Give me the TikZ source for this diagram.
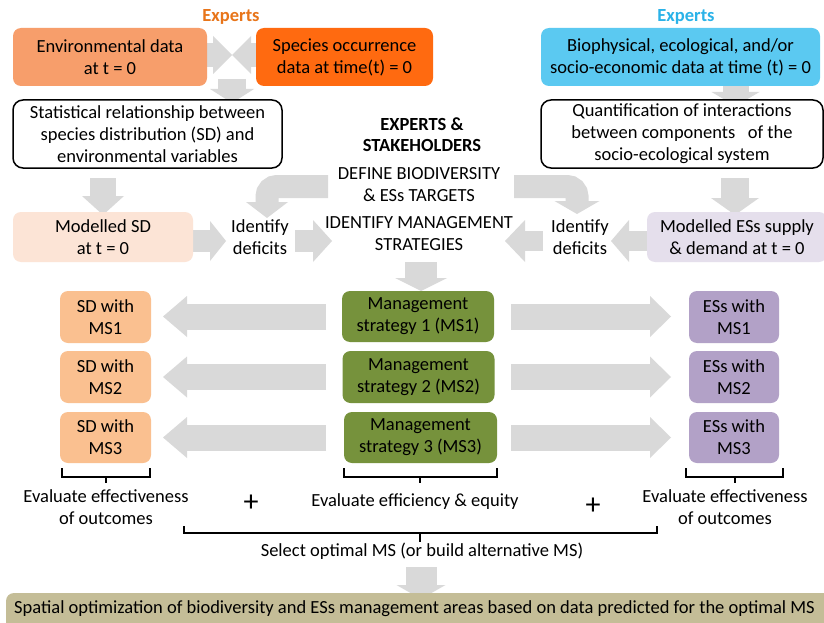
\documentclass[tikz,border=0pt]{standalone}
\usepackage{fontspec}
\setmainfont{Carlito}
\usetikzlibrary{arrows.meta}
\definecolor{agray}{HTML}{D9D9D9}
\definecolor{expor}{HTML}{E8751A}
\definecolor{expbl}{HTML}{2AB2E8}
\definecolor{envc}{HTML}{F79E6B}
\definecolor{spec}{HTML}{FF6A10}
\definecolor{bioc}{HTML}{5BC9F1}
\definecolor{msdc}{HTML}{FCE4D6}
\definecolor{mesc}{HTML}{E5DFEC}
\definecolor{sdc}{HTML}{FAC090}
\definecolor{esc}{HTML}{B2A1C7}
\definecolor{msc}{HTML}{76923C}
\definecolor{botc}{HTML}{C4BD97}
\begin{document}
\begin{tikzpicture}[x=1pt,y=-1pt,
  every node/.style={font=\fontsize{18.5}{22}\selectfont, align=center, inner sep=0pt},
  box/.style n args={3}{rounded corners=8pt, fill=#1, minimum width=#2, minimum height=#3},
  obox/.style n args={2}{rounded corners=10pt, draw=black, line width=1.5pt, fill=white, minimum width=#1, minimum height=#2},
  blk/.style n args={3}{draw=agray, line width=#1, -{Triangle[width=#2 0 0, length=#3 0 0, line width=0pt, fill=agray]}},
  brk/.style={draw=black, line width=2pt},
  plus/.style={font=\fontsize{30}{30}\selectfont}]
\clip (0,0) rectangle (824,623);
\fill[white] (0,0) rectangle (824,623);

% ---------- arrow end coordinates ----------
\coordinate (a1s) at (199,55);  \coordinate (a1e) at (232,55);
\coordinate (a2s) at (264,55);  \coordinate (a2e) at (232,55);
\coordinate (a3s) at (232,79);  \coordinate (a3e) at (232,103);
\coordinate (a4s) at (735.5,82); \coordinate (a4e) at (735.5,106);
\coordinate (a5s) at (103,178); \coordinate (a5e) at (103,215);
\coordinate (a6s) at (735,178); \coordinate (a6e) at (735,215);
\coordinate (a7s) at (188,241); \coordinate (a7e) at (226,241);
\coordinate (a8s) at (295,241); \coordinate (a8e) at (332,241);
\coordinate (a9s) at (650,241); \coordinate (a9e) at (611,241);
\coordinate (a10s) at (543,241); \coordinate (a10e) at (505,241);
\coordinate (c1s) at (328,186.5); \coordinate (c1m) at (267,186.5); \coordinate (c1e) at (267,218);
\coordinate (c2s) at (514,186.5); \coordinate (c2m) at (577,186.5); \coordinate (c2e) at (577,214);
\coordinate (a11s) at (421,262); \coordinate (a11e) at (421,291);
\coordinate (a12s) at (421,567); \coordinate (a12e) at (421,599);
\foreach \i/\y in {1/316.5,2/377,3/437.5}{
  \coordinate (l\i s) at (326,\y); \coordinate (l\i e) at (163,\y);
  \coordinate (r\i s) at (511,\y); \coordinate (r\i e) at (671,\y);
}

% ---------- gray block arrows ----------
\draw[blk={24pt}{38pt}{19pt}] (a1s) -- (a1e);
\draw[blk={24pt}{38pt}{19pt}] (a2s) -- (a2e);
\draw[blk={28pt}{44pt}{14pt}] (a3s) -- (a3e);
\draw[blk={26pt}{48pt}{14pt}] (a4s) -- (a4e);
\draw[blk={26pt}{42pt}{19pt}] (a5s) -- (a5e);
\draw[blk={28pt}{48pt}{17pt}] (a6s) -- (a6e);
\draw[blk={22pt}{40pt}{16pt}] (a7s) -- (a7e);
\draw[blk={22pt}{42pt}{19pt}] (a8s) -- (a8e);
\draw[blk={20pt}{42pt}{18pt}] (a9s) -- (a9e);
\draw[blk={20pt}{42pt}{20pt}] (a10s) -- (a10e);
\draw[blk={23pt}{42pt}{16pt}, rounded corners=10pt] (c1s) -- (c1m) -- (c1e);
\draw[blk={23pt}{45pt}{13pt}, rounded corners=10pt] (c2s) -- (c2m) -- (c2e);
\draw[blk={32pt}{52pt}{13pt}] (a11s) -- (a11e);
\draw[blk={31pt}{49pt}{14pt}] (a12s) -- (a12e);
\foreach \i in {1,2,3}{
  \draw[blk={26pt}{41pt}{24pt}] (l\i s) -- (l\i e);
  \draw[blk={26pt}{41pt}{21pt}] (r\i s) -- (r\i e);
}

% ---------- top row ----------
\node[font=\fontsize{18.5}{22}\selectfont\bfseries, text=expor] (expl) at (231,17) {Experts};
\node[font=\fontsize{18.5}{22}\selectfont\bfseries, text=expbl] (expr) at (686,17) {Experts};
\node[box={envc}{194pt}{58pt}] (env) at (110,57) {Environmental data\\at t = 0};
\node[box={spec}{177pt}{58pt}] (spc) at (344.5,57) {Species occurrence\\data at time(t) = 0};
\node[box={bioc}{279pt}{58pt}] (bio) at (680.5,57) {Biophysical, ecological, and/or\\socio-economic data at time (t) = 0};

\node[obox={269pt}{68pt}] (stat) at (147.5,134) {Statistical relationship between\\species distribution (SD) and\\environmental variables};
\node[obox={282pt}{68pt}] (quant) at (682,134) {Quantification of interactions\\between components \ \ of the\\socio-ecological system};

% ---------- center text ----------
\node[font=\fontsize{18.5}{21}\selectfont\bfseries] (hdr) at (422,135) {EXPERTS \&\\STAKEHOLDERS};
\node (def) at (419,185) {DEFINE BIODIVERSITY\\\& ESs TARGETS};
\node (idm) at (419,233.5) {IDENTIFY MANAGEMENT\\STRATEGIES};

% ---------- modelled row ----------
\node[box={msdc}{180pt}{50pt}] (msd) at (103,237) {Modelled SD\\at t = 0};
\node (idl) at (260,237) {Identify\\deficits};
\node (idr) at (580,237) {Identify\\deficits};
\node[box={mesc}{180pt}{50pt}] (mes) at (737,237) {Modelled ESs supply\\\& demand at t = 0};

% ---------- management strategies ----------
\node[box={msc}{152pt}{51pt}] (ms1) at (418,316.5) {Management\\strategy 1 (MS1)};
\node[box={msc}{152pt}{52pt}] (ms2) at (418.5,377) {Management\\strategy 2 (MS2)};
\node[box={msc}{153pt}{51pt}] (ms3) at (420.5,437.5) {Management\\strategy 3 (MS3)};
\node[box={sdc}{91pt}{52pt}] (sd1) at (105.5,317) {SD with\\MS1};
\node[box={sdc}{91pt}{52pt}] (sd2) at (105.5,377) {SD with\\MS2};
\node[box={sdc}{91pt}{51pt}] (sd3) at (105.5,437.5) {SD with\\MS3};
\node[box={esc}{90pt}{52pt}] (es1) at (734,317) {ESs with\\MS1};
\node[box={esc}{90pt}{52pt}] (es2) at (734,377) {ESs with\\MS2};
\node[box={esc}{90pt}{51pt}] (es3) at (734,437.5) {ESs with\\MS3};

% ---------- brackets ----------
\draw[brk] (62,468) -- (62,477) -- (150,477) -- (150,468);
\draw[brk] (106,477) -- (106,483);
\draw[brk] (344,468) -- (344,477) -- (497,477) -- (497,468);
\draw[brk] (420,477) -- (420,483);
\draw[brk] (686,468) -- (686,477) -- (783,477) -- (783,468);
\draw[brk] (735,477) -- (735,483);
\draw[brk] (184,526) -- (184,533) -- (657,533) -- (657,526);
\draw[brk] (420,533) -- (420,542);

\node (evl) at (106,507) {Evaluate effectiveness\\of outcomes};
\node[plus] (pl1) at (251,503) {+};
\node (eve) at (415,502) {Evaluate efficiency \& equity};
\node[plus] (pl2) at (593,506) {+};
\node (evr) at (725,507) {Evaluate effectiveness\\of outcomes};
\node (sel) at (422,551) {Select optimal MS (or build alternative MS)};

% ---------- bottom ----------
\fill[botc, rounded corners=8pt] (6,593) rectangle (840,640);
\node[anchor=west] (spat) at (14,609) {Spatial optimization of biodiversity and ESs management areas based on data predicted for the optimal MS};
\end{tikzpicture}
\end{document}
